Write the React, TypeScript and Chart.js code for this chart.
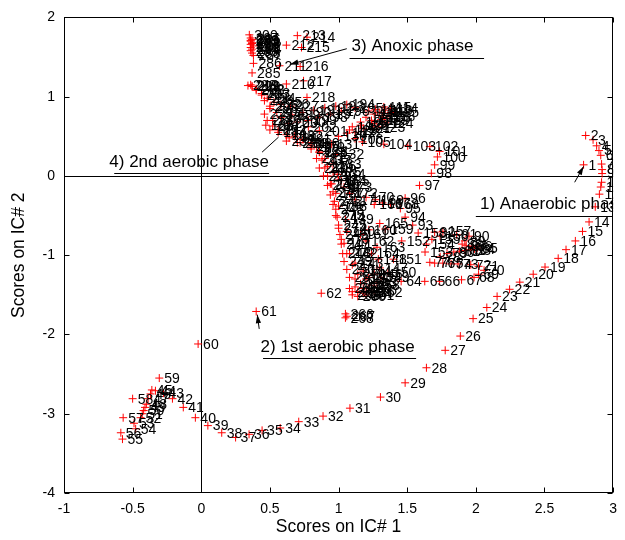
import React, { useEffect, useRef } from "react";
import { Chart, registerables } from "chart.js";

Chart.register(...registerables);

const FONT = "'Liberation Sans', Arial, Helvetica, sans-serif";

const X_TICKS = [-1, -0.5, 0, 0.5, 1, 1.5, 2, 2.5, 3];
const Y_TICKS = [-4, -3, -2, -1, 0, 1, 2];
const X_TITLE = "Scores on IC# 1";
const Y_TITLE = "Scores on IC# 2";

// Samples 1–60 (anaerobic phase and start of 1st aerobic phase)
const ic1SetA = [
  2.785, 2.8, 2.854, 2.88, 2.897, 2.91, 2.916, 2.92, 2.92, 2.916,
  2.91, 2.9, 2.87, 2.825, 2.777, 2.725, 2.657, 2.6, 2.504, 2.418,
  2.32, 2.246, 2.155, 2.08, 1.98, 1.887, 1.777, 1.64, 1.485, 1.305,
  1.083, 0.887, 0.71, 0.575, 0.443, 0.348, 0.25, 0.149, 0.048, -0.043,
  -0.131, -0.21, -0.275, -0.334, -0.36, -0.37, -0.387, -0.4, -0.41, -0.42,
  -0.43, -0.442, -0.49, -0.478, -0.574, -0.586, -0.569, -0.5, -0.306, -0.023,
];
const ic2SetA = [
  0.14, 0.51, 0.456, 0.38, 0.32, 0.26, 0.15, 0.08, 0.03, -0.08,
  -0.14, -0.23, -0.39, -0.58, -0.7, -0.82, -0.93, -1.04, -1.15, -1.24,
  -1.34, -1.43, -1.52, -1.66, -1.8, -2.02, -2.2, -2.42, -2.61, -2.79,
  -2.93, -3.03, -3.1, -3.18, -3.21, -3.26, -3.3, -3.24, -3.15, -3.05,
  -2.92, -2.81, -2.74, -2.71, -2.7, -2.75, -2.81, -2.88, -2.92, -2.96,
  -3.0, -3.05, -3.12, -3.19, -3.32, -3.24, -3.05, -2.81, -2.55, -2.12,
];

// Samples 61–105
const ic1SetB = [
  0.4, 0.874, 1.28, 1.456, 1.628, 1.736, 1.896, 1.987, 2.02, 2.06,
  2.02, 1.963, 1.87, 1.82, 1.76, 1.7, 1.665, 1.74, 1.79, 1.84,
  1.88, 1.92, 1.96, 1.99, 2.01, 1.97, 1.93, 1.9, 1.92, 1.95,
  1.86, 1.7, 1.54, 1.485, 1.45, 1.485, 1.59, 1.676, 1.7, 1.72,
  1.736, 1.665, 1.504, 1.33, 1.174,
];
const ic2SetB = [
  -1.71, -1.48, -1.35, -1.33, -1.33, -1.33, -1.31, -1.28, -1.24, -1.19,
  -1.14, -1.12, -1.11, -1.11, -1.1, -1.1, -1.09, -1.02, -0.98, -0.96,
  -0.95, -0.94, -0.93, -0.92, -0.91, -0.89, -0.88, -0.86, -0.82, -0.76,
  -0.74, -0.71, -0.62, -0.52, -0.41, -0.28, -0.12, 0.034, 0.14, 0.24,
  0.31, 0.37, 0.38, 0.4, 0.43,
];

// Samples 106–210
const ic1SetC = [
  1.12, 1.06, 1.1, 1.16, 1.2, 1.26, 1.3, 1.34, 1.38, 1.33,
  1.27, 1.22, 1.36, 1.31, 1.25, 1.18, 1.12, 1.28, 1.34, 1.38,
  1.32, 1.24, 1.16, 1.08, 1.0, 0.95, 0.98, 0.96, 0.99, 1.02,
  0.95, 0.98, 1.0, 1.05, 1.06, 1.04, 1.08, 1.12, 1.18, 1.22,
  1.26, 1.3, 1.29, 1.31, 1.36, 1.4, 1.46, 1.63, 1.64, 1.68,
  1.74, 1.76, 1.58, 1.34, 1.22, 1.16, 1.2, 1.28, 1.24, 1.3,
  1.26, 1.32, 1.38, 1.27, 1.2, 1.12, 1.08, 1.04, 1.0, 0.96,
  0.92, 0.9, 0.86, 0.84, 0.8, 0.74, 0.68, 0.62, 0.56, 0.5,
  0.47, 0.52, 0.58, 0.66, 0.74, 0.82, 0.9, 0.98, 1.06, 1.12,
  1.02, 0.94, 0.86, 0.78, 0.7, 0.86, 0.78, 0.64, 0.55, 0.5,
  0.46, 0.44, 0.4, 0.37, 0.62,
];
const ic2SetC = [
  0.47, 0.54, 0.62, 0.68, 0.74, 0.78, 0.8, 0.83, 0.85, 0.87,
  0.84, 0.82, 0.76, 0.71, 0.66, 0.6, 0.55, 0.62, 0.67, 0.8,
  0.74, 0.7, 0.64, 0.58, 0.5, 0.4, 0.27, 0.15, 0.02, -0.06,
  -0.1, -0.22, -0.38, -0.55, -0.7, -0.85, -0.98, -1.1, -1.2, -1.28,
  -1.24, -1.16, -1.05, -1.28, -1.22, -1.05, -0.82, -0.96, -0.86, -0.8,
  -0.76, -0.7, -0.72, -0.67, -0.68, -0.74, -0.82, -0.9, -0.98, -0.6,
  -0.36, -0.34, -0.36, -0.3, -0.27, -0.3, -0.22, -0.14, -0.05, 0.05,
  0.12, 0.22, 0.3, 0.36, 0.42, 0.46, 0.5, 0.52, 0.55, 0.58,
  0.64, 0.7, 0.74, 0.77, 0.8, 0.83, 0.86, 0.88, 0.9, 0.86,
  0.82, 0.78, 0.74, 0.7, 0.68, 0.57, 0.62, 0.66, 0.8, 0.88,
  0.95, 1.02, 1.08, 1.13, 1.16,
];

// Samples 211–300 (anoxic phase and 2nd aerobic phase)
const ic1SetD = [
  0.57, 0.62, 0.7, 0.77, 0.73, 0.72, 0.745, 0.77, 0.36, 0.34,
  0.37, 0.4, 0.44, 0.48, 0.53, 0.58, 0.65, 0.5, 0.46, 0.48,
  0.52, 0.56, 0.62, 0.7, 0.8, 0.86, 0.88, 0.9, 0.92, 0.94,
  0.96, 0.97, 0.98, 0.99, 1.0, 1.01, 1.02, 1.03, 1.04, 1.06,
  1.08, 1.12, 1.14, 1.18, 1.22, 1.16, 1.2, 1.24, 1.1, 1.14,
  1.2, 1.26, 1.18, 1.12, 1.08, 1.05, 1.06, 1.05, 1.1, 1.14,
  1.1, 1.06, 1.02, 1.0, 0.98, 0.96, 0.94, 0.92, 0.89, 0.86,
  0.84, 0.8, 0.72, 0.64, 0.37, 0.38, 0.38, 0.37, 0.36, 0.37,
  0.36, 0.38, 0.36, 0.37, 0.36, 0.37, 0.36, 0.37, 0.36, 0.35,
];
const ic2SetD = [
  1.39, 1.65, 1.77, 1.75, 1.62, 1.38, 1.2, 0.99, 1.15, 1.14,
  1.13, 1.1, 1.04, 0.98, 0.93, 0.9, 0.88, 0.85, 0.78, 0.7,
  0.63, 0.58, 0.44, 0.42, 0.38, 0.3, 0.2, 0.1, 0.0, -0.1,
  -0.2, -0.32, -0.42, -0.52, -0.62, -0.74, -0.86, -0.98, -1.08, -1.18,
  -1.28, -1.4, -1.46, -1.48, -1.44, -1.36, -1.3, -1.38, -1.5, -1.52,
  -1.5, -1.46, -1.42, -1.3, -1.42, -1.74, -1.77, -1.79, -1.46, -1.24,
  -1.12, -0.98, -0.8, -0.66, -0.5, -0.36, -0.24, -0.12, 0.0, 0.1,
  0.22, 0.34, 0.42, 0.48, 1.3, 1.42, 1.52, 1.55, 1.58, 1.6,
  1.62, 1.64, 1.66, 1.68, 1.7, 1.72, 1.74, 1.67, 1.71, 1.78,
];

// Phase annotations (text + arrow), placed in data units
const PHASE_NOTES = [
  { text: "1) Anaerobic phase", tx: 2.03, ty: -0.36, ux1: 2.0, ux2: 3.0, uy: -0.5, ax1: 2.72, ay1: -0.08, ax2: 2.785, ay2: 0.12, head: true },
  { text: "2) 1st aerobic phase", tx: 0.432, ty: -2.16, ux1: 0.45, ux2: 1.565, uy: -2.3, ax1: 0.422, ay1: -1.93, ax2: 0.408, ay2: -1.75, head: true },
  { text: "3) Anoxic phase", tx: 1.095, ty: 1.64, ux1: 1.08, ux2: 2.06, uy: 1.49, ax1: 1.06, ay1: 1.605, ax2: 0.645, ay2: 1.407, head: true },
  { text: "4) 2nd aerobic phase", tx: -0.67, ty: 0.17, ux1: -0.634, ux2: 0.494, uy: 0.035, ax1: 0.443, ay1: 0.3, ax2: 0.563, ay2: 0.49, head: false },
];

const allX = [...ic1SetA, ...ic1SetB, ...ic1SetC, ...ic1SetD];
const allY = [...ic2SetA, ...ic2SetB, ...ic2SetC, ...ic2SetD];

function drawArrow(ctx: CanvasRenderingContext2D, x1: number, y1: number, x2: number, y2: number, head: boolean) {
  ctx.beginPath();
  ctx.moveTo(x1, y1);
  ctx.lineTo(x2, y2);
  ctx.stroke();
  if (!head) return;
  const ang = Math.atan2(y2 - y1, x2 - x1);
  const h = 9;
  ctx.beginPath();
  ctx.moveTo(x2, y2);
  ctx.lineTo(x2 - h * Math.cos(ang - 0.3), y2 - h * Math.sin(ang - 0.3));
  ctx.lineTo(x2 - h * Math.cos(ang + 0.3), y2 - h * Math.sin(ang + 0.3));
  ctx.closePath();
  ctx.fill();
}

const framePlugin = {
  id: "frameAndZero",
  beforeDatasetsDraw(chart: any) {
    const { ctx, chartArea: a, scales } = chart;
    const xs = scales.x, ys = scales.y;
    ctx.save();
    ctx.strokeStyle = "#000";
    ctx.lineWidth = 1;
    const x0 = Math.round(xs.getPixelForValue(0)) + 0.5;
    const y0 = Math.round(ys.getPixelForValue(0)) + 0.5;
    ctx.beginPath();
    ctx.moveTo(x0, a.top);
    ctx.lineTo(x0, a.bottom);
    ctx.moveTo(a.left, y0);
    ctx.lineTo(a.right, y0);
    ctx.stroke();
    const L = Math.round(a.left) + 0.5, R = Math.round(a.right) - 0.5;
    const T = Math.round(a.top) + 0.5, B = Math.round(a.bottom) - 0.5;
    ctx.strokeRect(L, T, R - L, B - T);
    const tl = 5;
    ctx.beginPath();
    X_TICKS.forEach((v) => {
      const px = Math.round(xs.getPixelForValue(v)) + 0.5;
      ctx.moveTo(px, B); ctx.lineTo(px, B - tl);
      ctx.moveTo(px, T); ctx.lineTo(px, T + tl);
    });
    Y_TICKS.forEach((v) => {
      const py = Math.round(ys.getPixelForValue(v)) + 0.5;
      ctx.moveTo(L, py); ctx.lineTo(L + tl, py);
      ctx.moveTo(R, py); ctx.lineTo(R - tl, py);
    });
    ctx.stroke();
    ctx.restore();
  },
};

const labelPlugin = {
  id: "pointLabels",
  afterDatasetsDraw(chart: any) {
    const { ctx, chartArea: a } = chart;
    const meta = chart.getDatasetMeta(0);
    ctx.save();
    ctx.beginPath();
    ctx.rect(a.left, a.top, a.right - a.left, a.bottom - a.top);
    ctx.clip();
    ctx.font = `14px ${FONT}`;
    ctx.fillStyle = "#000";
    ctx.textAlign = "left";
    ctx.textBaseline = "middle";
    meta.data.forEach((el: any, i: number) => {
      ctx.fillText(String(i + 1), el.x + 5, el.y + 1);
    });
    ctx.restore();
  },
};

const notesPlugin = {
  id: "phaseNotes",
  afterDraw(chart: any) {
    const { ctx, chartArea: a, scales } = chart;
    const xs = scales.x, ys = scales.y;
    ctx.save();
    ctx.beginPath();
    ctx.rect(a.left, a.top, a.right - a.left, a.bottom - a.top);
    ctx.clip();
    ctx.font = `17px ${FONT}`;
    ctx.fillStyle = "#000";
    ctx.strokeStyle = "#000";
    ctx.lineWidth = 1;
    ctx.textAlign = "left";
    ctx.textBaseline = "middle";
    PHASE_NOTES.forEach((n) => {
      ctx.fillText(n.text, xs.getPixelForValue(n.tx), ys.getPixelForValue(n.ty));
      const uy = Math.round(ys.getPixelForValue(n.uy)) + 0.5;
      ctx.beginPath();
      ctx.moveTo(xs.getPixelForValue(n.ux1), uy);
      ctx.lineTo(xs.getPixelForValue(n.ux2), uy);
      ctx.stroke();
      drawArrow(
        ctx,
        xs.getPixelForValue(n.ax1), ys.getPixelForValue(n.ay1),
        xs.getPixelForValue(n.ax2), ys.getPixelForValue(n.ay2),
        n.head
      );
    });
    ctx.restore();
  },
};

export default function App() {
  const canvasRef = useRef<HTMLCanvasElement | null>(null);

  useEffect(() => {
    const canvas = canvasRef.current;
    if (!canvas) return;
    const points = allX.map((x, i) => ({ x, y: allY[i] }));
    const tickFont = { family: FONT, size: 14 };
    const titleFont = { family: FONT, size: 17.5 };
    const chart = new Chart(canvas, {
      type: "scatter",
      data: {
        datasets: [
          {
            data: points,
            pointStyle: "cross",
            pointRadius: 4,
            pointHoverRadius: 4,
            pointBorderColor: "#ff0000",
            pointBackgroundColor: "#ff0000",
            pointBorderWidth: 1,
            showLine: false,
          },
        ],
      },
      options: {
        responsive: false,
        animation: false,
        devicePixelRatio: 1,
        layout: { padding: { top: 16, right: 4, left: 0, bottom: 0 } },
        plugins: { legend: { display: false }, tooltip: { enabled: false } },
        events: [],
        scales: {
          x: {
            type: "linear",
            min: -1,
            max: 3,
            afterBuildTicks: (s: any) => {
              s.ticks = X_TICKS.map((v) => ({ value: v }));
            },
            afterFit: (s: any) => {
              s.height = 47;
            },
            ticks: {
              font: tickFont,
              color: "#000",
              padding: 8,
              maxRotation: 0,
              autoSkip: false,
              callback: (v: any) => String(Number(v)),
            },
            grid: { display: false, drawTicks: false },
            border: { display: false },
            title: { display: true, text: X_TITLE, font: titleFont, color: "#000", padding: { top: 0, bottom: 2 } },
          },
          y: {
            type: "linear",
            min: -4,
            max: 2,
            afterBuildTicks: (s: any) => {
              s.ticks = Y_TICKS.map((v) => ({ value: v }));
            },
            afterFit: (s: any) => {
              s.width = 64;
            },
            ticks: {
              font: tickFont,
              color: "#000",
              padding: 9,
              autoSkip: false,
              callback: (v: any) => String(Number(v)),
            },
            grid: { display: false, drawTicks: false },
            border: { display: false },
            title: { display: true, text: Y_TITLE, font: titleFont, color: "#000", padding: { top: 9, bottom: 0 } },
          },
        },
      },
      plugins: [framePlugin, labelPlugin, notesPlugin],
    });
    return () => chart.destroy();
  }, []);

  return (
    <div style={{ position: "absolute", left: 0, top: 0, width: 625, height: 540, background: "#fff" }}>
      <canvas ref={canvasRef} width={625} height={540} style={{ display: "block" }} />
    </div>
  );
}
